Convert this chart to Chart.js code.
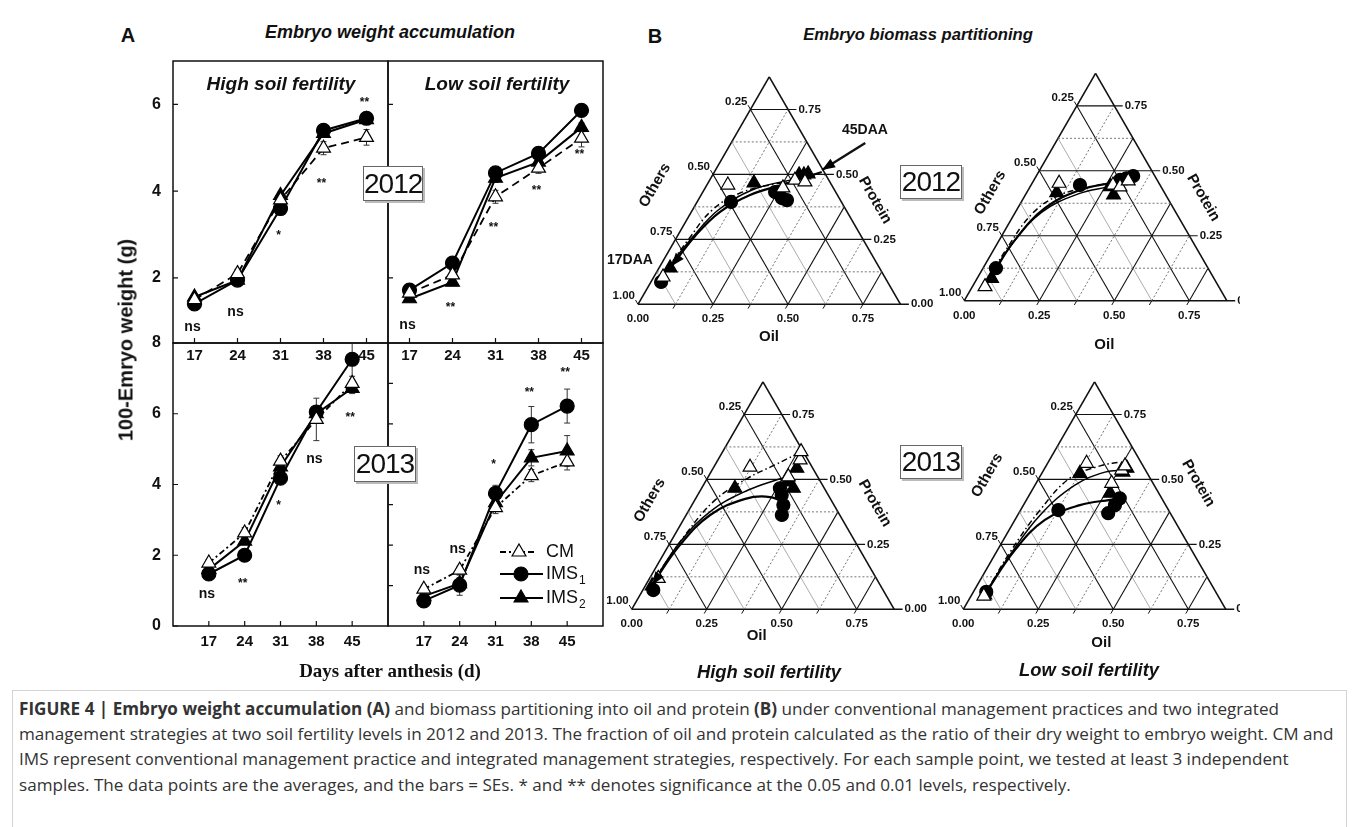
<!DOCTYPE html>
<html>
<head>
<meta charset="utf-8">
<title>Figure 4</title>
<script src="https://cdn.jsdelivr.net/npm/chart.js@4.4.1/dist/chart.umd.min.js"></script>
<style>
  html, body { margin: 0; padding: 0; background: #fff; }
  #fig { position: relative; width: 1358px; height: 827px; overflow: hidden;
         font-family: "Liberation Sans", Arial, sans-serif; color: #111; }
  #fig canvas { position: absolute; }
  .t { position: absolute; white-space: nowrap; font-weight: bold; transform: translate(-50%, -50%); }
  .it { font-style: italic; }
  .year { position: absolute; background: #fff; border: 1px solid #666; box-shadow: 2px 2px 0 #bbb;
          font-size: 28px; letter-spacing: -1px; text-align: center; z-index: 5; }
  #caption { position: absolute; left: 12px; top: 690px; width: 1333px; height: 140px;
             border: 1px solid #d4d4d4; border-bottom: none;
             font-family: "Open Sans", sans-serif; font-size: 17.1px; color: #333; }
  #caption div { position: absolute; left: 6px; white-space: nowrap; line-height: 22px; }
</style>
</head>
<body>
<div id="fig">
  <canvas id="wHigh2012"></canvas>
  <canvas id="wLow2012"></canvas>
  <canvas id="wHigh2013"></canvas>
  <canvas id="wLow2013"></canvas>
  <canvas id="pHigh2012"></canvas>
  <canvas id="pLow2012"></canvas>
  <canvas id="pHigh2013"></canvas>
  <canvas id="pLow2013"></canvas>

  <div class="t" style="left:128px; top:35px; font-size:20px;">A</div>
  <div class="t it" style="left:390px; top:32px; font-size:18px;">Embryo weight accumulation</div>
  <div class="t" style="left:655px; top:36px; font-size:20px;">B</div>
  <div class="t it" style="left:918px; top:35px; font-size:16.6px;">Embryo biomass partitioning</div>
  <div class="t it" style="left:281px; top:84px; font-size:19px;">High soil fertility</div>
  <div class="t it" style="left:497px; top:84px; font-size:19px;">Low soil fertility</div>
  <div class="t" style="left:126px; top:340px; font-size:20px; transform:translate(-50%,-50%) rotate(-90deg);">100-Emryo weight (g)</div>
  <div class="t" style="left:390px; top:671px; font-size:19px; font-family:'Liberation Serif','Times New Roman',serif;">Days after anthesis (d)</div>
  <div class="t it" style="left:769px; top:672px; font-size:18.4px;">High soil fertility</div>
  <div class="t it" style="left:1089px; top:670px; font-size:18.4px;">Low soil fertility</div>

  <div class="year" style="left:363px; top:166px; width:58px; height:33px; line-height:33px;">2012</div>
  <div class="year" style="left:354px; top:446px; width:60px; height:34px; line-height:34px;">2013</div>
  <div class="year" style="left:900px; top:165px; width:60px; height:32px; line-height:32px;">2012</div>
  <div class="year" style="left:900px; top:445px; width:60px; height:32px; line-height:32px;">2013</div>

  <div id="caption">
    <div style="top:7px;"><b>FIGURE 4 | Embryo weight accumulation (A)</b> and biomass partitioning into oil and protein <b>(B)</b> under conventional management practices and two integrated</div>
    <div style="top:32px;">management strategies at two soil fertility levels in 2012 and 2013. The fraction of oil and protein calculated as the ratio of their dry weight to embryo weight. CM and</div>
    <div style="top:57px;">IMS represent conventional management practice and integrated management strategies, respectively. For each sample point, we tested at least 3 independent</div>
    <div style="top:83px;">samples. The data points are the averages, and the bars = SEs. * and ** denotes significance at the 0.05 and 0.01 levels, respectively.</div>
  </div>
</div>

<script>
const SANS = '"Liberation Sans", Arial, sans-serif';

// ---------- A: weight of 100 embryos (g) ----------
const days = [17, 24, 31, 38, 45];

const cmHigh2012   = [1.50, 2.10, 3.80, 4.99, 5.24];
const ims1High2012 = [1.40, 1.95, 3.60, 5.40, 5.68];
const ims2High2012 = [1.56, 1.95, 3.90, 5.33, 5.65];
const cmLow2012    = [1.65, 2.07, 3.87, 4.53, 5.22];
const ims1Low2012  = [1.72, 2.34, 4.42, 4.87, 5.86];
const ims2Low2012  = [1.52, 1.90, 4.30, 4.67, 5.47];
const cmHigh2013   = [1.78, 2.63, 4.66, 5.84, 6.86];
const ims1High2013 = [1.47, 2.00, 4.18, 6.05, 7.54];
const ims2High2013 = [1.60, 2.40, 4.50, 6.00, 6.72];
const cmLow2013    = [0.91, 1.38, 2.93, 3.72, 4.06];
const ims1Low2013  = [0.62, 1.01, 3.28, 4.98, 5.44];
const ims2Low2013  = [0.74, 1.05, 3.05, 4.16, 4.33];

// standard errors
const seHigh2012 = [[0.08, 0.10, 0.10, 0.15, 0.18], [0.05, 0.06, 0.10, 0.08, 0.12], [0.05, 0.06, 0.08, 0.08, 0.10]];
const seLow2012  = [[0.08, 0.10, 0.15, 0.12, 0.20], [0.06, 0.08, 0.10, 0.10, 0.10], [0.06, 0.08, 0.10, 0.10, 0.10]];
const seHigh2013 = [[0.10, 0.15, 0.15, 0.60, 0.20], [0.08, 0.10, 0.10, 0.15, 0.90], [0.08, 0.10, 0.10, 0.15, 0.15]];
const seLow2013  = [[0.10, 0.10, 0.15, 0.15, 0.20], [0.08, 0.25, 0.20, 0.45, 0.42], [0.08, 0.15, 0.15, 0.20, 0.38]];

// significance marks per sampling day
const sigHigh2012 = ['ns', 'ns', '*', '**', '**'];
const sigLow2012  = ['ns', '**', '**', '**', '**'];
const sigHigh2013 = ['ns', '**', '*', 'ns', '**'];
const sigLow2013  = ['ns', 'ns', '*', '**', '**'];

const yTicks2012 = [2, 4, 6];
const yTicksHigh2013 = [0, 2, 4, 6, 8];
const yTicksLow2013 = [1, 2, 3, 4, 5, 6];

// ---------- B: fractions of embryo dry weight, [oil, protein] ----------
const cmPartHigh2012   = [[0.031, 0.105], [0.070, 0.459], [0.259, 0.448], [0.284, 0.478], [0.321, 0.471]];
const ims1PartHigh2012 = [[0.034, 0.086], [0.113, 0.394], [0.241, 0.432], [0.275, 0.409], [0.296, 0.401]];
const ims2PartHigh2012 = [[0.037, 0.140], [0.153, 0.467], [0.288, 0.498], [0.304, 0.498], [0.316, 0.502]];
const cmFitHigh2012    = [[0.028, 0.124], [0.043, 0.247], [0.066, 0.363], [0.126, 0.428], [0.225, 0.463], [0.318, 0.478]];
const ims1FitHigh2012  = [[0.039, 0.147], [0.059, 0.263], [0.095, 0.355], [0.163, 0.421], [0.258, 0.463], [0.358, 0.509]];
const ims2FitHigh2012  = [[0.030, 0.140], [0.052, 0.255], [0.086, 0.363], [0.160, 0.440], [0.268, 0.478], [0.343, 0.494]];

const cmPartLow2012   = [[0.042, 0.054], [0.090, 0.452], [0.273, 0.445], [0.300, 0.438], [0.316, 0.461]];
const ims1PartLow2012 = [[0.043, 0.125], [0.163, 0.445], [0.287, 0.465], [0.305, 0.471], [0.323, 0.480]];
const ims2PartLow2012 = [[0.048, 0.086], [0.100, 0.416], [0.267, 0.439], [0.294, 0.407], [0.285, 0.445]];
const cmFitLow2012    = [[0.039, 0.080], [0.041, 0.195], [0.060, 0.338], [0.116, 0.407], [0.215, 0.442], [0.304, 0.465]];
const ims1FitLow2012  = [[0.043, 0.099], [0.052, 0.234], [0.091, 0.357], [0.173, 0.426], [0.274, 0.457], [0.329, 0.480]];
const ims2FitLow2012  = [[0.042, 0.087], [0.050, 0.218], [0.088, 0.341], [0.174, 0.411], [0.271, 0.442], [0.320, 0.465]];

const cmPartHigh2013   = [[0.029, 0.119], [0.121, 0.547], [0.267, 0.510], [0.274, 0.575], [0.261, 0.607]];
const ims1PartHigh2013 = [[0.035, 0.074], [0.261, 0.466], [0.280, 0.440], [0.305, 0.401], [0.319, 0.363]];
const ims2PartHigh2013 = [[0.023, 0.090], [0.111, 0.466], [0.276, 0.490], [0.306, 0.466], [0.279, 0.543]];
const cmFitHigh2013    = [[0.018, 0.121], [0.035, 0.286], [0.068, 0.421], [0.135, 0.505], [0.200, 0.556], [0.247, 0.594]];
const ims1FitHigh2013  = [[0.021, 0.094], [0.037, 0.247], [0.080, 0.363], [0.166, 0.425], [0.245, 0.432], [0.327, 0.401]];
const ims2FitHigh2013  = [[0.019, 0.098], [0.032, 0.259], [0.077, 0.382], [0.159, 0.459], [0.248, 0.505]];

const cmPartLow2013   = [[0.043, 0.051], [0.130, 0.562], [0.252, 0.485], [0.260, 0.536], [0.263, 0.552]];
const ims1PartLow2013 = [[0.043, 0.067], [0.126, 0.382], [0.298, 0.370], [0.308, 0.427], [0.305, 0.401]];
const ims2PartLow2013 = [[0.044, 0.055], [0.127, 0.523], [0.266, 0.447], [0.274, 0.543], [0.268, 0.528]];
const cmFitLow2013    = [[0.043, 0.059], [0.046, 0.221], [0.065, 0.382], [0.103, 0.505], [0.180, 0.552], [0.238, 0.567]];
const ims1FitLow2013  = [[0.043, 0.059], [0.058, 0.228], [0.100, 0.344], [0.188, 0.401], [0.279, 0.421], [0.325, 0.428]];
const ims2FitLow2013  = [[0.043, 0.059], [0.051, 0.209], [0.075, 0.363], [0.133, 0.478], [0.208, 0.528], [0.271, 0.536]];

// ternary axes: the triangle is cut at others = 0.125
const othersMin = 0.125;
const majorSteps = [0.25, 0.5, 0.75];
const minorSteps = [0.125, 0.375, 0.625];
const minorOthers = [0.375, 0.625, 0.875];
const othersTickLabels = [0.25, 0.5, 0.75, 1.0];
const proteinTickLabels = [0.75, 0.5, 0.25, 0.0];
const oilTickLabels = [0.0, 0.25, 0.5, 0.75];

// ---------- helpers ----------
function drawMarker(ctx, style, x, y, r, fill) {
  ctx.beginPath();
  if (style === 'circle') {
    ctx.arc(x, y, r, 0, Math.PI * 2);
  } else {
    ctx.moveTo(x, y - r);
    ctx.lineTo(x + r * 0.866, y + r / 2);
    ctx.lineTo(x - r * 0.866, y + r / 2);
    ctx.closePath();
  }
  ctx.fillStyle = fill;
  ctx.fill();
  ctx.lineWidth = 1.2;
  ctx.strokeStyle = '#000';
  ctx.stroke();
}

function arrowHead(ctx, tip, from, len, half) {
  const a = Math.atan2(tip[1] - from[1], tip[0] - from[0]);
  ctx.beginPath();
  ctx.moveTo(tip[0], tip[1]);
  ctx.lineTo(tip[0] - len * Math.cos(a) + half * Math.sin(a), tip[1] - len * Math.sin(a) - half * Math.cos(a));
  ctx.lineTo(tip[0] - len * Math.cos(a) - half * Math.sin(a), tip[1] - len * Math.sin(a) + half * Math.cos(a));
  ctx.closePath();
  ctx.fill();
}

function place(id, box) {
  const c = document.getElementById(id);
  c.width = box.width;
  c.height = box.height;
  c.style.left = box.left + 'px';
  c.style.top = box.top + 'px';
  return c;
}

// frame, inward ticks, error bars, significance marks and the legend
const panelDecor = {
  id: 'panelDecor',
  beforeDatasetsDraw(chart, args, o) {
    const { ctx, chartArea: a, scales: { x, y } } = chart;
    ctx.save();
    ctx.beginPath();
    ctx.rect(a.left, a.top, a.right - a.left, a.bottom - a.top);
    ctx.clip();
    ctx.strokeStyle = '#333';
    ctx.lineWidth = 1;
    chart.data.datasets.forEach((ds, i) => {
      ds.data.forEach((pt, j) => {
        const e = o.errors[i][j];
        const px = x.getPixelForValue(pt.x);
        const lo = y.getPixelForValue(pt.y - e), hi = y.getPixelForValue(pt.y + e);
        ctx.beginPath();
        ctx.moveTo(px, lo); ctx.lineTo(px, hi);
        ctx.moveTo(px - 3, lo); ctx.lineTo(px + 3, lo);
        ctx.moveTo(px - 3, hi); ctx.lineTo(px + 3, hi);
        ctx.stroke();
      });
    });
    ctx.restore();
  },
  afterDraw(chart, args, o) {
    const { ctx, chartArea: a, scales: { x, y } } = chart;
    ctx.save();
    ctx.strokeStyle = '#111';
    ctx.lineWidth = 1.5;
    ctx.strokeRect(a.left, a.top, a.right - a.left, a.bottom - a.top);
    ctx.lineWidth = 1.2;
    ctx.beginPath();
    days.forEach(d => {
      const px = x.getPixelForValue(d);
      ctx.moveTo(px, a.bottom); ctx.lineTo(px, a.bottom - 5);
    });
    o.yTicks.forEach(v => {
      const py = y.getPixelForValue(v);
      ctx.moveTo(a.left, py); ctx.lineTo(a.left + 5, py);
    });
    ctx.stroke();

    ctx.fillStyle = '#111';
    ctx.textAlign = 'center';
    ctx.textBaseline = 'middle';
    o.sig.forEach((s, j) => {
      ctx.font = s === 'ns' ? 'bold 14px ' + SANS : 'bold 12px ' + SANS;
      ctx.fillText(s, x.getPixelForValue(days[j]) - 2, y.getPixelForValue(o.sigY[j]));
    });

    if (o.legend) {
      const rows = [209, 231, 255];
      chart.data.datasets.forEach((ds, i) => {
        const ry = a.top + rows[i];
        const x0 = a.left + 112;
        ctx.save();
        ctx.strokeStyle = '#000';
        ctx.lineWidth = 2;
        ctx.setLineDash(ds.borderDash || []);
        ctx.beginPath();
        ctx.moveTo(x0, ry); ctx.lineTo(x0 + (i === 0 ? 37 : 43), ry);
        ctx.stroke();
        ctx.restore();
        drawMarker(ctx, ds.pointStyle, x0 + (i === 0 ? 19 : 21), ry, ds.pointStyle === 'circle' ? 7 : 8, ds.pointBackgroundColor);
        ctx.fillStyle = '#111';
        ctx.textAlign = 'left';
        ctx.font = '18px ' + SANS;
        const name = ds.label.replace(/\d$/, '');
        const sub = ds.label.slice(name.length);
        ctx.fillText(name, x0 + 46, ry);
        if (sub) {
          const w = ctx.measureText(name).width;
          ctx.font = '12px ' + SANS;
          ctx.fillText(sub, x0 + 47 + w, ry + 7);
        }
      });
    }
    ctx.restore();
  }
};

function weightChart(id, box, series, o) {
  const names = ['CM', 'IMS1', 'IMS2'];
  const datasets = series.map((vals, i) => ({
    label: names[i],
    data: days.map((d, j) => ({ x: d, y: vals[j] })),
    borderColor: '#000',
    borderWidth: i === 0 ? 1.8 : 2,
    borderDash: i === 0 ? o.cmDash : [],
    pointStyle: i === 1 ? 'circle' : 'triangle',
    pointRadius: i === 1 ? 7 : 8,
    pointBackgroundColor: i === 0 ? '#fff' : '#000',
    pointBorderColor: '#000',
    pointBorderWidth: 1.2,
    tension: 0
  }));
  return new Chart(place(id, box), {
    type: 'line',
    data: { datasets },
    options: {
      responsive: false,
      animation: false,
      events: [],
      layout: { padding: o.pad, autoPadding: false },
      plugins: {
        legend: { display: false },
        tooltip: { enabled: false },
        panelDecor: { errors: o.errors, sig: o.sig, sigY: o.sigY, yTicks: o.yTicks, legend: !!o.legend }
      },
      scales: {
        x: {
          type: 'linear', min: o.xMin, max: o.xMax,
          afterBuildTicks: s => { s.ticks = days.map(v => ({ value: v })); },
          afterFit: s => { s.height = o.axisH; s.paddingLeft = 0; s.paddingRight = 0; },
          grid: { display: false, drawTicks: false },
          border: { display: false },
          ticks: { color: '#111', font: { family: SANS, weight: 'bold', size: 15 }, padding: o.xPad, maxRotation: 0, autoSkip: false }
        },
        y: {
          type: 'linear', min: o.yMin, max: o.yMax, display: o.showY,
          afterBuildTicks: s => { s.ticks = o.yTicks.map(v => ({ value: v })); },
          afterFit: s => { s.width = o.showY ? 53 : 0; s.paddingTop = 0; s.paddingBottom = 0; },
          grid: { display: false, drawTicks: false },
          border: { display: false },
          ticks: { color: '#111', font: { family: SANS, weight: 'bold', size: 16 }, padding: 12 }
        }
      }
    },
    plugins: [panelDecor]
  });
}

weightChart('wHigh2012', { left: 120, top: 55, width: 270, height: 320 },
  [cmHigh2012, ims1High2012, ims2High2012],
  { xMin: 13.5, xMax: 48.5, yMin: 0.5, yMax: 7, yTicks: yTicks2012, showY: true,
    pad: { left: 0, top: 6, right: 2, bottom: 0 }, axisH: 32, xPad: 4, cmDash: [8, 5],
    errors: seHigh2012, sig: sigHigh2012, sigY: [0.87, 1.22, 2.97, 4.18, 6.05] });

weightChart('wLow2012', { left: 386, top: 55, width: 222, height: 320 },
  [cmLow2012, ims1Low2012, ims2Low2012],
  { xMin: 13.5, xMax: 48.5, yMin: 0.5, yMax: 7, yTicks: yTicks2012, showY: false,
    pad: { left: 2, top: 6, right: 5, bottom: 0 }, axisH: 32, xPad: 4, cmDash: [8, 5],
    errors: seLow2012, sig: sigLow2012, sigY: [0.92, 1.31, 3.15, 4.0, 4.85] });

weightChart('wHigh2013', { left: 120, top: 331, width: 270, height: 339 },
  [cmHigh2013, ims1High2013, ims2High2013],
  { xMin: 10, xMax: 52, yMin: 0, yMax: 8, yTicks: yTicksHigh2013, showY: true,
    pad: { left: 0, top: 12, right: 2, bottom: 0 }, axisH: 44, xPad: 7, cmDash: [6, 3, 2, 3],
    errors: seHigh2013, sig: sigHigh2013, sigY: [0.9, 1.21, 3.39, 4.72, 5.88] });

weightChart('wLow2013', { left: 386, top: 331, width: 222, height: 339 },
  [cmLow2013, ims1Low2013, ims2Low2013],
  { xMin: 10, xMax: 52, yMin: 0, yMax: 7, yTicks: yTicksLow2013, showY: false,
    pad: { left: 2, top: 12, right: 5, bottom: 0 }, axisH: 44, xPad: 7, cmDash: [6, 3, 2, 3],
    errors: seLow2013, sig: sigLow2013, sigY: [1.37, 1.91, 3.98, 5.78, 6.27], legend: true });

// ---------- ternary panels ----------
const H = Math.sqrt(3) / 2;
const UNIT = 300; // page pixels per unit of composition

function ternaryXY(oil, protein) {
  return { x: oil + protein / 2, y: protein * H };
}

function gridSets() {
  const sets = [];
  const seg = (a, b, style) => sets.push(Object.assign({
    data: [ternaryXY(a[0], a[1]), ternaryXY(b[0], b[1])],
    showLine: true, pointRadius: 0, tension: 0, order: 20
  }, style));
  const major = { borderColor: '#111', borderWidth: 1.1 };
  const dotted = { borderColor: '#666', borderWidth: 0.9, borderDash: [2, 2] };
  const thin = { borderColor: '#888', borderWidth: 0.7 };
  const edge = { borderColor: '#111', borderWidth: 1.6 };
  const top = 1 - othersMin;
  // constant protein, extended a little past the right edge as a tick
  majorSteps.forEach(p => seg([0, p], [top - p + 0.028, p], major));
  minorSteps.forEach(p => seg([0, p], [top - p, p], dotted));
  // constant oil
  majorSteps.forEach(v => seg([v, 0], [v, top - v], major));
  minorSteps.forEach(v => seg([v, 0], [v, top - v], dotted));
  // constant others
  majorSteps.forEach(v => seg([0, 1 - v], [1 - v, 0], major));
  minorOthers.forEach(v => seg([0, 1 - v], [1 - v, 0], thin));
  // outline
  seg([0, 0], [0, top], edge);
  seg([0, top], [top, 0], edge);
  seg([0, 0], [top + 0.028, 0], edge);
  return sets;
}

const ternaryDecor = {
  id: 'ternaryDecor',
  afterDatasetsDraw(chart, args, o) {
    const { ctx, scales: { x, y } } = chart;
    const P = (oil, p) => {
      const t = ternaryXY(oil, p);
      return [x.getPixelForValue(t.x), y.getPixelForValue(t.y)];
    };
    const top = 1 - othersMin;
    ctx.save();
    ctx.fillStyle = '#111';
    ctx.strokeStyle = '#111';
    ctx.lineWidth = 1;
    ctx.font = 'bold 11.5px ' + SANS;

    // Others, on the left edge
    ctx.textAlign = 'right';
    ctx.textBaseline = 'middle';
    othersTickLabels.forEach(v => {
      const [cx, cy] = P(0, 1 - v);
      ctx.beginPath(); ctx.moveTo(cx, cy); ctx.lineTo(cx - 2.5, cy - 4.3); ctx.stroke();
      ctx.fillText(v.toFixed(2), cx - 3, cy - 8);
    });
    // Protein, right of the horizontal lines
    ctx.textAlign = 'left';
    proteinTickLabels.forEach(v => {
      const [cx, cy] = P(top - v + 0.028, v);
      ctx.fillText(v.toFixed(2), cx + 2, cy);
    });
    // Oil, under the base
    ctx.textAlign = 'center';
    ctx.textBaseline = 'top';
    oilTickLabels.forEach(v => {
      const [cx, cy] = P(v, 0);
      ctx.fillText(v.toFixed(2), cx, cy + 9);
    });
    ctx.beginPath();
    [0.125, 0.25, 0.375, 0.5, 0.625, 0.75].forEach(v => {
      const [cx, cy] = P(v, 0);
      ctx.moveTo(cx, cy); ctx.lineTo(cx - 2.5, cy + 4.3);
    });
    ctx.stroke();

    // axis titles
    const [bx, by] = P(0, 0);
    ctx.font = 'bold 15px ' + SANS;
    ctx.textBaseline = 'middle';
    ctx.fillText('Oil', bx + o.oilAt[0], by + o.oilAt[1]);
    ctx.save();
    ctx.translate(bx + o.othersAt[0], by + o.othersAt[1]);
    ctx.rotate(-Math.PI / 3);
    ctx.fillText('Others', 0, 0);
    ctx.restore();
    ctx.save();
    ctx.translate(bx + o.proteinAt[0], by + o.proteinAt[1]);
    ctx.rotate(Math.PI / 3);
    ctx.fillText('Protein', 0, 0);
    ctx.restore();

    // arrow at the early end of the IMS1 trajectory
    if (o.arrow) {
      const fit = chart.data.datasets.find(d => d.fitOf === 'IMS1').data;
      const tip = [x.getPixelForValue(fit[0].x), y.getPixelForValue(fit[0].y)];
      const from = [x.getPixelForValue(fit[1].x), y.getPixelForValue(fit[1].y)];
      ctx.fillStyle = '#000';
      arrowHead(ctx, tip, from, 13, 5);
    }
    if (o.daa) {
      ctx.fillStyle = '#111';
      ctx.font = 'bold 14px ' + SANS;
      ctx.fillText('45DAA', bx + 227, by - 174);
      ctx.fillText('17DAA', bx - 8, by - 44);
      const s = P(o.daa[0][0], o.daa[0][1]), e = P(o.daa[1][0], o.daa[1][1]);
      ctx.lineWidth = 2.4;
      ctx.beginPath(); ctx.moveTo(s[0], s[1]); ctx.lineTo(e[0], e[1]); ctx.stroke();
      ctx.fillStyle = '#000';
      arrowHead(ctx, e, s, 13, 5);
    }
    ctx.restore();
  }
};

function partitionChart(id, box, pts, fits, o) {
  const xMin = (box.left - box.vx) / UNIT, xMax = (box.left + box.width - box.vx) / UNIT;
  const yMax = (box.vy - box.top) / UNIT, yMin = (box.vy - box.top - box.height) / UNIT;
  const toXY = arr => arr.map(([oil, p]) => ternaryXY(oil, p));
  const markers = [
    { label: 'CM', pointStyle: 'triangle', pointRadius: 8, pointBackgroundColor: '#fff', order: 0 },
    { label: 'IMS1', pointStyle: 'circle', pointRadius: 6.5, pointBackgroundColor: '#000', order: 1 },
    { label: 'IMS2', pointStyle: 'triangle', pointRadius: 8, pointBackgroundColor: '#000', order: 2 }
  ].map((m, i) => Object.assign(m, {
    data: toXY(pts[i]), showLine: false, pointBorderColor: '#000', pointBorderWidth: 1.2
  }));
  const curves = [
    { fitOf: 'CM', borderWidth: 1.5, borderDash: [6, 3, 1.5, 3], order: 3 },
    { fitOf: 'IMS1', borderWidth: 2.2, order: 4 },
    { fitOf: 'IMS2', borderWidth: 1.5, order: 5 }
  ].map((c, i) => Object.assign(c, {
    data: toXY(fits[i]), showLine: true, pointRadius: 0, tension: 0.4, borderColor: '#000'
  }));
  return new Chart(place(id, box), {
    type: 'scatter',
    data: { datasets: markers.concat(curves, gridSets()) },
    options: {
      responsive: false,
      animation: false,
      events: [],
      layout: { padding: 0, autoPadding: false },
      plugins: { legend: { display: false }, tooltip: { enabled: false }, ternaryDecor: o },
      scales: {
        x: { type: 'linear', display: false, min: xMin, max: xMax },
        y: { type: 'linear', display: false, min: yMin, max: yMax }
      }
    },
    plugins: [ternaryDecor]
  });
}

partitionChart('pHigh2012', { left: 596, top: 62, width: 340, height: 290, vx: 638, vy: 304.3 },
  [cmPartHigh2012, ims1PartHigh2012, ims2PartHigh2012],
  [cmFitHigh2012, ims1FitHigh2012, ims2FitHigh2012],
  { othersAt: [17, -119], proteinAt: [237, -104], oilAt: [131, 33], arrow: true,
    daa: [[0.447, 0.621], [0.355, 0.517]] });

partitionChart('pLow2012', { left: 922, top: 58, width: 318, height: 302, vx: 964.3, vy: 300.7 },
  [cmPartLow2012, ims1PartLow2012, ims2PartLow2012],
  [cmFitLow2012, ims1FitLow2012, ims2FitLow2012],
  { othersAt: [26, -108], proteinAt: [239, -103], oilAt: [140, 44] });

partitionChart('pHigh2013', { left: 590, top: 366, width: 340, height: 290, vx: 631.7, vy: 609.3 },
  [cmPartHigh2013, ims1PartHigh2013, ims2PartHigh2013],
  [cmFitHigh2013, ims1FitHigh2013, ims2FitHigh2013],
  { othersAt: [18, -109], proteinAt: [243, -106], oilAt: [125, 27], arrow: true });

partitionChart('pLow2013', { left: 921, top: 366, width: 319, height: 290, vx: 963.3, vy: 609.3 },
  [cmPartLow2013, ims1PartLow2013, ims2PartLow2013],
  [cmFitLow2013, ims1FitLow2013, ims2FitLow2013],
  { othersAt: [24, -134], proteinAt: [235, -126], oilAt: [138, 34] });
</script>
</body>
</html>
